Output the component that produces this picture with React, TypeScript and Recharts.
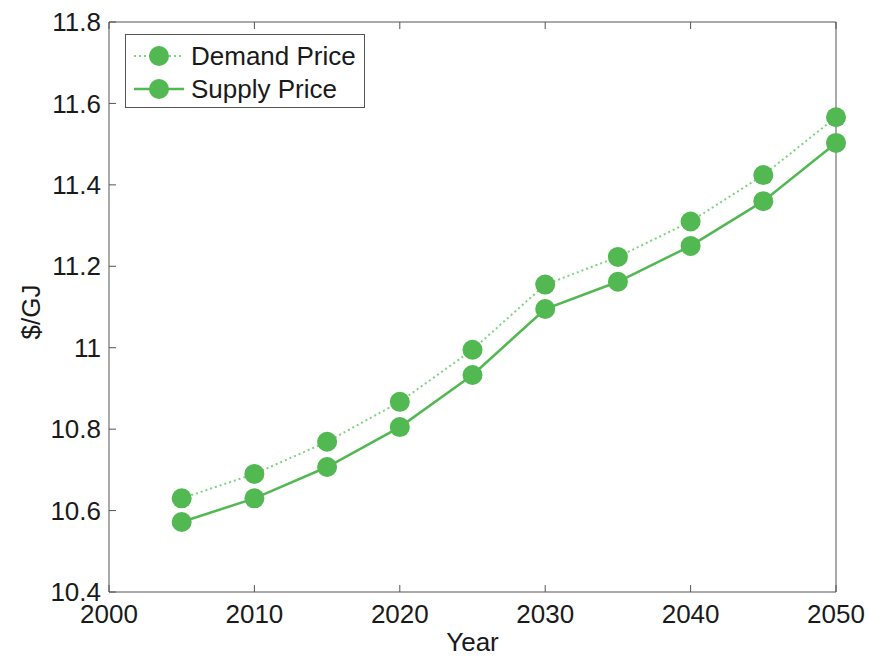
import React from 'react';
import { LineChart, Line, XAxis, YAxis, Legend } from 'recharts';

const years = [2005, 2010, 2015, 2020, 2025, 2030, 2035, 2040, 2045, 2050];
const demandPrice = [10.63, 10.69, 10.769, 10.867, 10.995, 11.155, 11.223, 11.31, 11.424, 11.566];
const supplyPrice = [10.572, 10.63, 10.707, 10.805, 10.933, 11.095, 11.162, 11.25, 11.36, 11.503];
const xTicks = [2000, 2010, 2020, 2030, 2040, 2050];
const yTicks = [10.4, 10.6, 10.8, 11, 11.2, 11.4, 11.6, 11.8];

const data = years.map((y, i) => ({ year: y, demand: demandPrice[i], supply: supplyPrice[i] }));

const GREEN = '#52b852';
const DOTTED = '#7ed37e';
const AXIS = '#555';
const TEXT = '#1a1a1a';
const FONT = '"Liberation Sans", Arial, sans-serif';
const FS = 26;
const TS = 7; // tick size (spacing)
const IN = 7; // inward tick length

const fmtY = (v: number) => String(Number(v.toFixed(1)));

const BottomTick = (props: any) => {
  const { x, y, payload } = props;
  const axisY = y - TS - 6;
  return (
    <g>
      <line x1={x} y1={axisY} x2={x} y2={axisY - IN} stroke={AXIS} strokeWidth={1} />
      <text x={x} y={y} dy="0.71em" textAnchor="middle" fontSize={FS} fill={TEXT} fontFamily={FONT}>{payload.value}</text>
    </g>
  );
};

const TopTick = (props: any) => {
  const { x, y } = props;
  const axisY = y + TS + 2;
  return <line x1={x} y1={axisY} x2={x} y2={axisY + IN} stroke={AXIS} strokeWidth={1} />;
};

const LeftTick = (props: any) => {
  const { x, y, payload } = props;
  const axisX = x + TS + 1;
  return (
    <g>
      <line x1={axisX} y1={y} x2={axisX + IN} y2={y} stroke={AXIS} strokeWidth={1} />
      <text x={x} y={y} dy="0.35em" textAnchor="end" fontSize={FS} fill={TEXT} fontFamily={FONT}>{fmtY(payload.value)}</text>
    </g>
  );
};

const RightTick = (props: any) => {
  const { x, y } = props;
  const axisX = x - TS - 2;
  return <line x1={axisX} y1={y} x2={axisX - IN} y2={y} stroke={AXIS} strokeWidth={1} />;
};

const LegendBox = (props: any) => {
  const payload = props.payload || [];
  return (
    <div style={{ width: 240, height: 74, boxSizing: 'border-box', border: `1px solid ${AXIS}`, background: '#fff', fontFamily: FONT, fontSize: FS, color: TEXT, paddingTop: 4, lineHeight: 1 }}>
      {payload.map((p: any, i: number) => (
        <div key={i} style={{ display: 'flex', alignItems: 'center', height: 33 }}>
          <svg width={59} height={24} style={{ marginLeft: 6, flex: 'none' }}>
            <line x1={2} y1={12} x2={52} y2={12} stroke={p.payload.stroke} strokeWidth={p.payload.strokeWidth} strokeDasharray={p.payload.strokeDasharray} />
            <circle cx={27} cy={12} r={10} fill={GREEN} />
          </svg>
          <span style={{ whiteSpace: 'nowrap' }}>{p.value}</span>
        </div>
      ))}
    </div>
  );
};

export default function App() {
  return (
    <div style={{ position: 'absolute', left: 0, top: 0 }}>
      <LineChart width={869} height={657} data={data} margin={{ top: 21, right: 32, left: 0, bottom: 0 }}>
        <XAxis
          dataKey="year"
          type="number"
          domain={[2000, 2050]}
          ticks={xTicks}
          height={65}
          tickSize={TS}
          tickMargin={6}
          tickLine={false}
          tick={<BottomTick />}
          axisLine={{ stroke: AXIS }}
          label={{ value: 'Year', position: 'insideBottom', offset: 6, style: { fontSize: FS, fill: TEXT, fontFamily: FONT } }}
        />
        <XAxis
          xAxisId="top"
          orientation="top"
          dataKey="year"
          type="number"
          domain={[2000, 2050]}
          ticks={xTicks}
          height={1}
          tickSize={TS}
          tickMargin={2}
          tickLine={false}
          tick={<TopTick />}
          axisLine={{ stroke: AXIS }}
        />
        <YAxis
          type="number"
          domain={[10.4, 11.8]}
          ticks={yTicks}
          width={109}
          tickSize={TS}
          tickMargin={1}
          tickLine={false}
          tick={<LeftTick />}
          axisLine={{ stroke: AXIS }}
          label={{ value: '$/GJ', angle: -90, position: 'center', dx: -24, dy: 5, style: { fontSize: FS, fill: TEXT, fontFamily: FONT } }}
        />
        <YAxis
          yAxisId="right"
          orientation="right"
          type="number"
          domain={[10.4, 11.8]}
          ticks={yTicks}
          width={1}
          tickSize={TS}
          tickMargin={2}
          tickLine={false}
          tick={<RightTick />}
          axisLine={{ stroke: AXIS }}
        />
        <Legend
          verticalAlign="middle"
          align="center"
          content={LegendBox}
          wrapperStyle={{ position: 'absolute', left: 125, top: 34, width: 240, height: 74 }}
        />
        <Line
          name="Demand Price"
          dataKey="demand"
          stroke={DOTTED}
          strokeWidth={2}
          strokeDasharray="2 3"
          dot={{ r: 10, fill: GREEN, stroke: 'none' }}
          activeDot={false}
          isAnimationActive={false}
        />
        <Line
          name="Supply Price"
          dataKey="supply"
          stroke={GREEN}
          strokeWidth={2.5}
          dot={{ r: 10, fill: GREEN, stroke: 'none' }}
          activeDot={false}
          isAnimationActive={false}
        />
      </LineChart>
    </div>
  );
}
